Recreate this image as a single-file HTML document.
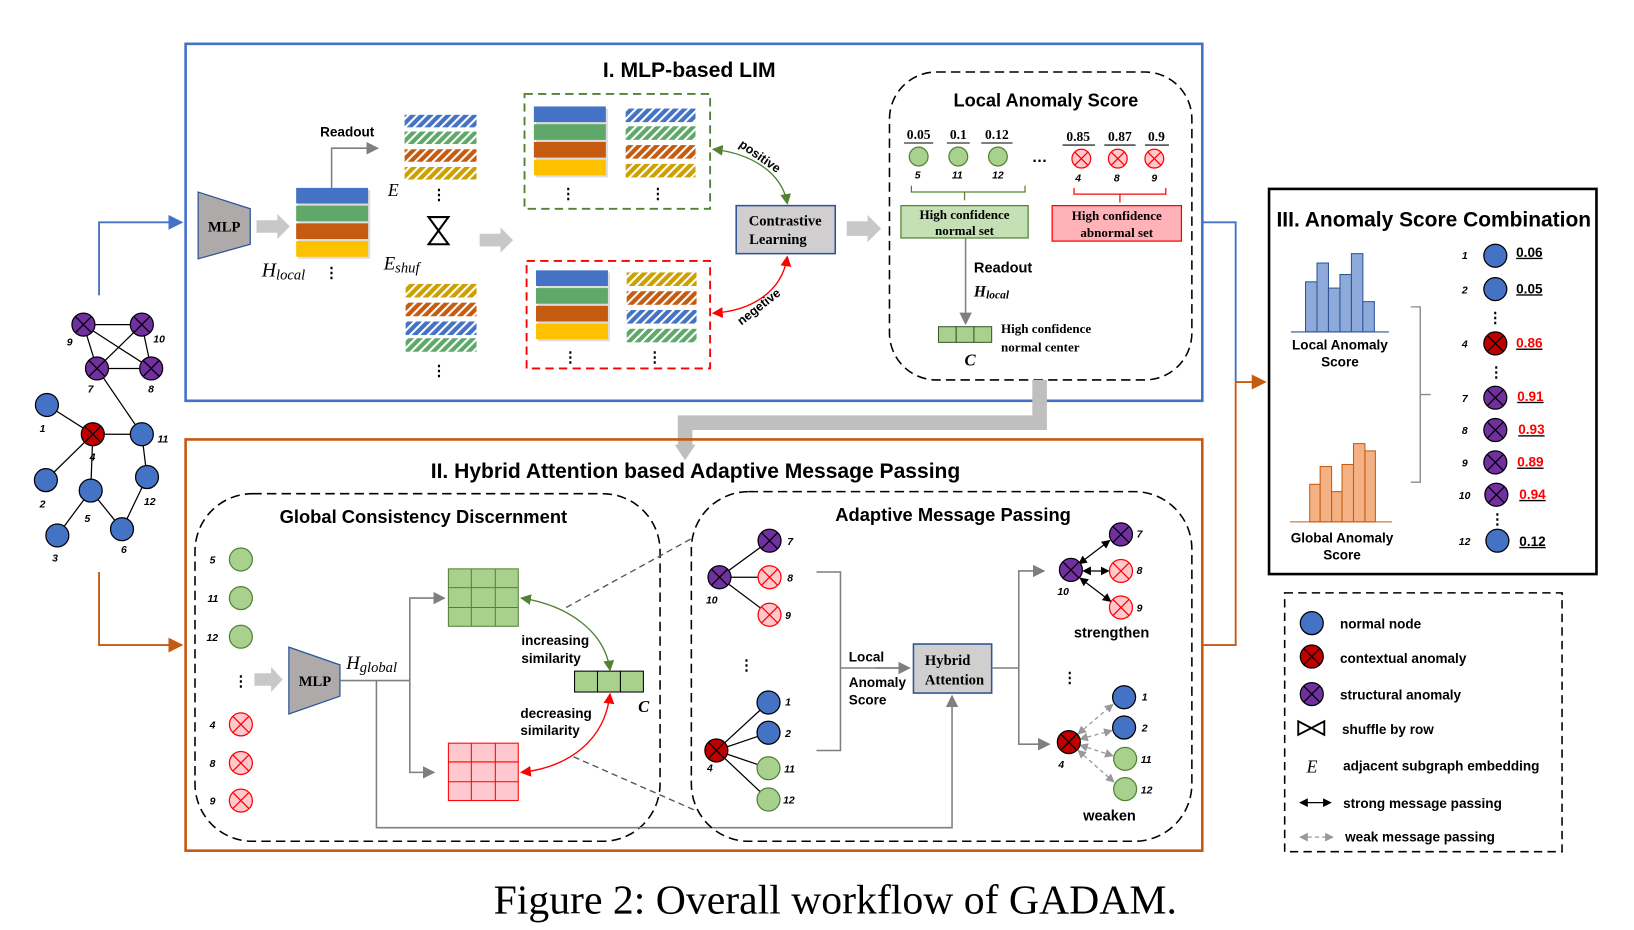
<!DOCTYPE html>
<html><head><meta charset="utf-8"><style>html,body{margin:0;padding:0;background:#fff}svg{display:block}</style></head><body>
<svg width="1634" height="930" viewBox="0 0 1567 891" preserveAspectRatio="none" xmlns="http://www.w3.org/2000/svg" font-family="Liberation Sans, Arial, sans-serif">
<defs>
<pattern id="pb" width="6" height="6" patternUnits="userSpaceOnUse" patternTransform="rotate(45)"><rect width="6" height="6" fill="#4472c4"/><rect width="2" height="6" fill="#fff"/></pattern>
<pattern id="pg" width="6" height="6" patternUnits="userSpaceOnUse" patternTransform="rotate(45)"><rect width="6" height="6" fill="#5fa86a"/><rect width="2" height="6" fill="#fff"/></pattern>
<pattern id="po" width="6" height="6" patternUnits="userSpaceOnUse" patternTransform="rotate(45)"><rect width="6" height="6" fill="#c55a11"/><rect width="2" height="6" fill="#fff"/></pattern>
<pattern id="py" width="6" height="6" patternUnits="userSpaceOnUse" patternTransform="rotate(45)"><rect width="6" height="6" fill="#cca000"/><rect width="2" height="6" fill="#fff"/></pattern>
<marker id="ag" markerWidth="8" markerHeight="8" refX="7" refY="4" orient="auto"><path d="M0,0 L8,4 L0,8z" fill="#7f7f7f"/></marker>
<marker id="ab" markerWidth="8" markerHeight="8" refX="7" refY="4" orient="auto"><path d="M0,0 L8,4 L0,8z" fill="#4472c4"/></marker>
<marker id="ao" markerWidth="8" markerHeight="8" refX="7" refY="4" orient="auto"><path d="M0,0 L8,4 L0,8z" fill="#c55a11"/></marker>
<marker id="agr" markerWidth="8" markerHeight="8" refX="7" refY="4" orient="auto-start-reverse"><path d="M0,0 L8,4 L0,8z" fill="#548235"/></marker>
<marker id="ar" markerWidth="8" markerHeight="8" refX="7" refY="4" orient="auto-start-reverse"><path d="M0,0 L8,4 L0,8z" fill="#ff0000"/></marker>
<marker id="ak" markerWidth="7" markerHeight="7" refX="6" refY="3.5" orient="auto-start-reverse"><path d="M0,0 L7,3.5 L0,7z" fill="#000"/></marker>
<marker id="ad" markerWidth="7" markerHeight="7" refX="6" refY="3.5" orient="auto-start-reverse"><path d="M0,0 L7,3.5 L0,7z" fill="#999"/></marker>
<g id="nb"><circle r="11" fill="#4472c4" stroke="#000" stroke-width="1.2"/></g>
<g id="nr"><circle r="11" fill="#c00000" stroke="#000" stroke-width="1.2"/><path d="M-7.8,-7.8L7.8,7.8M-7.8,7.8L7.8,-7.8" stroke="#000" stroke-width="1.2"/></g>
<g id="np"><circle r="11" fill="#7030a0" stroke="#000" stroke-width="1.2"/><path d="M-7.8,-7.8L7.8,7.8M-7.8,7.8L7.8,-7.8" stroke="#000" stroke-width="1.2"/></g>
<g id="ng"><circle r="11" fill="#a9d18e" stroke="#548235" stroke-width="1.2"/></g>
<g id="nk"><circle r="11" fill="#ffc7ce" stroke="#ff0000" stroke-width="1.2"/><path d="M-7.8,-7.8L7.8,7.8M-7.8,7.8L7.8,-7.8" stroke="#ff0000" stroke-width="1.2"/></g>
<g id="ngs"><circle r="9" fill="#a9d18e" stroke="#548235" stroke-width="1.2"/></g>
<g id="nks"><circle r="9" fill="#ffc7ce" stroke="#ff0000" stroke-width="1.2"/><path d="M-6.3,-6.3L6.3,6.3M-6.3,6.3L6.3,-6.3" stroke="#ff0000" stroke-width="1.2"/></g>
<g id="solid"><rect x="2" y="2" width="69" height="66" fill="#bbb" opacity="0.5"/><rect width="69" height="15" fill="#4472c4"/><rect y="17" width="69" height="15" fill="#5fa86a"/><rect y="34" width="69" height="15" fill="#c55a11"/><rect y="51" width="69" height="15" fill="#ffc000"/></g>
</defs>

<rect x="178" y="42" width="975" height="342" fill="none" stroke="#4472c4" stroke-width="2.5"/>
<text x="661" y="74" font-size="20.3" font-weight="bold" text-anchor="middle">I. MLP-based LIM</text>
<polygon points="190,184 240,200 240,234 190,248" fill="#aeaaaa" stroke="#2f5597" stroke-width="1.2"/>
<text x="215" y="222" font-family="Liberation Serif, serif" font-weight="bold" font-size="14" text-anchor="middle">MLP</text>
<path d="M246,211 H266 V205 L278,217 L266,229 V223 H246z" fill="#c8c8c8"/>
<use href="#solid" x="284" y="180"/>
<path d="M318,180 V142 H362" stroke="#7f7f7f" stroke-width="1.5" fill="none" marker-end="url(#ag)"/>
<text x="307" y="131" font-size="13" font-weight="bold">Readout</text>
<text x="251" y="265" font-family="Liberation Serif, serif" font-style="italic" font-size="19">H<tspan font-size="14" dy="3">local</tspan></text>
<text x="318" y="266" font-size="14" font-weight="bold" text-anchor="middle">⋮</text>
<g>
<rect x="388" y="110" width="69" height="12" fill="url(#pb)"/><rect x="388" y="126" width="69" height="12" fill="url(#pg)"/><rect x="388" y="143" width="69" height="12" fill="url(#po)"/><rect x="388" y="160" width="69" height="12" fill="url(#py)"/>
</g>
<text x="372" y="188" font-family="Liberation Serif, serif" font-style="italic" font-size="17">E</text>
<text x="421" y="191" font-size="14" font-weight="bold" text-anchor="middle">⋮</text>
<path d="M411,208 H430 L411,234 H430 Z" fill="none" stroke="#000" stroke-width="2"/>
<text x="368" y="258" font-family="Liberation Serif, serif" font-style="italic" font-size="18">E<tspan font-size="14" dy="3">shuf</tspan></text>
<g>
<rect x="389" y="272" width="68" height="13" fill="url(#py)"/><rect x="389" y="290" width="68" height="13" fill="url(#po)"/><rect x="389" y="308" width="68" height="13" fill="url(#pb)"/><rect x="389" y="324" width="68" height="13" fill="url(#pg)"/>
</g>
<text x="421" y="360" font-size="14" font-weight="bold" text-anchor="middle">⋮</text>
<path d="M460,224 H480 V218 L492,230 L480,242 V236 H460z" fill="#c8c8c8"/>
<rect x="503" y="90" width="178" height="110" fill="none" stroke="#548235" stroke-width="1.8" stroke-dasharray="8,5"/>
<use href="#solid" x="512" y="102"/>
<g><rect x="600" y="104" width="67" height="13" fill="url(#pb)"/><rect x="600" y="121" width="67" height="13" fill="url(#pg)"/><rect x="600" y="139" width="67" height="13" fill="url(#po)"/><rect x="600" y="157" width="67" height="13" fill="url(#py)"/></g>
<text x="545" y="190" font-size="14" font-weight="bold" text-anchor="middle">⋮</text>
<text x="631" y="190" font-size="14" font-weight="bold" text-anchor="middle">⋮</text>
<rect x="505" y="250" width="176" height="103" fill="none" stroke="#ff0000" stroke-width="1.8" stroke-dasharray="8,5"/>
<use href="#solid" x="514" y="259"/>
<g><rect x="601" y="261" width="67" height="13" fill="url(#py)"/><rect x="601" y="279" width="67" height="13" fill="url(#po)"/><rect x="601" y="297" width="67" height="13" fill="url(#pb)"/><rect x="601" y="315" width="67" height="13" fill="url(#pg)"/></g>
<text x="547" y="347" font-size="14" font-weight="bold" text-anchor="middle">⋮</text>
<text x="628" y="347" font-size="14" font-weight="bold" text-anchor="middle">⋮</text>
<rect x="706" y="197" width="95" height="46" fill="#d0cece" stroke="#2f5597" stroke-width="1.5"/>
<text x="753" y="216" font-family="Liberation Serif, serif" font-weight="bold" font-size="14" text-anchor="middle">Contrastive</text>
<text x="746" y="234" font-family="Liberation Serif, serif" font-weight="bold" font-size="14" text-anchor="middle">Learning</text>
<path d="M755,195 C750,165 720,147 684,143" fill="none" stroke="#548235" stroke-width="1.3" marker-start="url(#agr)" marker-end="url(#agr)"/>
<text x="0" y="0" font-size="12" font-weight="bold" transform="translate(708,140) rotate(35)">positive</text>
<path d="M755,246 C750,280 720,298 684,300" fill="none" stroke="#ff0000" stroke-width="1.3" marker-start="url(#ar)" marker-end="url(#ar)"/>
<text x="0" y="0" font-size="12" font-weight="bold" transform="translate(711,312) rotate(-38)">negetive</text>
<path d="M812,212 H832 V206 L845,219 L832,232 V226 H812z" fill="#c8c8c8"/>

<rect x="853" y="69" width="290" height="295" rx="45" fill="none" stroke="#000" stroke-width="1.5" stroke-dasharray="9,5"/>
<text x="1003" y="102" font-size="17.5" font-weight="bold" text-anchor="middle">Local Anomaly Score</text>
<g font-family="Liberation Serif, serif" font-weight="bold" font-size="13" text-anchor="middle">
<text x="881" y="133">0.05</text><text x="919" y="133">0.1</text><text x="956" y="133">0.12</text>
<text x="1034" y="135">0.85</text><text x="1074" y="135">0.87</text><text x="1109" y="135">0.9</text>
</g>
<g stroke="#000" stroke-width="1"><path d="M867,137H895M908,137H930M941,137H971M1019,139H1050M1059,139H1089M1098,139H1121"/></g>
<use href="#ngs" x="881" y="150"/><use href="#ngs" x="919" y="150"/><use href="#ngs" x="957" y="150"/>
<use href="#nks" x="1037" y="152"/><use href="#nks" x="1072" y="152"/><use href="#nks" x="1107" y="152"/>
<text x="997" y="155" font-size="15" font-weight="bold" text-anchor="middle">…</text>
<g font-size="10" font-style="italic" font-weight="bold" text-anchor="middle"><text x="880" y="171">5</text><text x="918" y="171">11</text><text x="957" y="171">12</text><text x="1034" y="174">4</text><text x="1071" y="174">8</text><text x="1107" y="174">9</text></g>
<path d="M874,178 V184 H983 V178 M925,184 V192" fill="none" stroke="#548235" stroke-width="1.2"/>
<path d="M1030,180 V186 H1118 V180 M1074,186 V194" fill="none" stroke="#ff0000" stroke-width="1.2"/>
<rect x="864" y="197" width="122" height="31" fill="#c5e0b4" stroke="#548235" stroke-width="1.2"/>
<text x="925" y="210" font-family="Liberation Serif, serif" font-weight="bold" font-size="12.5" text-anchor="middle">High confidence</text>
<text x="925" y="225" font-family="Liberation Serif, serif" font-weight="bold" font-size="12.5" text-anchor="middle">normal set</text>
<rect x="1009" y="197" width="124" height="34" fill="#ffb3b8" stroke="#ff0000" stroke-width="1.2"/>
<text x="1071" y="211" font-family="Liberation Serif, serif" font-weight="bold" font-size="12.5" text-anchor="middle">High confidence</text>
<text x="1071" y="227" font-family="Liberation Serif, serif" font-weight="bold" font-size="12.5" text-anchor="middle">abnormal set</text>
<path d="M926,228 V310" stroke="#7f7f7f" stroke-width="1.5" marker-end="url(#ag)"/>
<text x="934" y="261" font-size="14" font-weight="bold">Readout</text>
<text x="934" y="284" font-family="Liberation Serif, serif" font-weight="bold" font-style="italic" font-size="15">H<tspan font-size="11" dy="2">local</tspan></text>
<g fill="#a9d18e" stroke="#3a5a28" stroke-width="1"><rect x="900" y="313" width="17" height="15"/><rect x="917" y="313" width="17" height="15"/><rect x="934" y="313" width="17" height="15"/></g>
<text x="925" y="350" font-family="Liberation Serif, serif" font-style="italic" font-weight="bold" font-size="16">C</text>
<text x="960" y="319" font-family="Liberation Serif, serif" font-weight="bold" font-size="12.5">High confidence</text>
<text x="960" y="337" font-family="Liberation Serif, serif" font-weight="bold" font-size="12.5">normal center</text>

<path d="M997,364 V405 H657 V428" fill="none" stroke="#bfbfbf" stroke-width="14"/>
<path d="M647,426 H667 L657,441z" fill="#bfbfbf"/>

<path d="M1153,213 H1185 V366" fill="none" stroke="#4472c4" stroke-width="1.8"/>
<path d="M1153,618 H1185 V366 H1213" fill="none" stroke="#c55a11" stroke-width="1.8" marker-end="url(#ao)"/>
<path d="M95,283 V213 H174" fill="none" stroke="#4472c4" stroke-width="1.8" marker-end="url(#ab)"/>
<path d="M95,548 V618 H174" fill="none" stroke="#c55a11" stroke-width="1.8" marker-end="url(#ao)"/>

<g stroke="#000" stroke-width="1.2">
<path d="M80,311L136,311M80,311L93,353M80,311L145,353M136,311L93,353M136,311L145,353M93,353L145,353M93,353L136,416M45,388L89,416M89,416L136,416M89,416L44,460M89,416L87,470M136,416L141,457M141,457L117,507M87,470L55,513M87,470L117,507"/>
</g>
<use href="#np" x="80" y="311"/><use href="#np" x="136" y="311"/><use href="#np" x="93" y="353"/><use href="#np" x="145" y="353"/>
<use href="#nb" x="45" y="388"/><use href="#nr" x="89" y="416"/><use href="#nb" x="136" y="416"/><use href="#nb" x="44" y="460"/><use href="#nb" x="87" y="470"/><use href="#nb" x="141" y="457"/><use href="#nb" x="117" y="507"/><use href="#nb" x="55" y="513"/>
<g font-size="10" font-style="italic" font-weight="bold"><text x="64" y="331">9</text><text x="147" y="328">10</text><text x="84" y="376">7</text><text x="142" y="376">8</text><text x="38" y="414">1</text><text x="86" y="441">4</text><text x="151" y="424">11</text><text x="38" y="486">2</text><text x="81" y="500">5</text><text x="138" y="484">12</text><text x="116" y="530">6</text><text x="50" y="538">3</text></g>

<rect x="178" y="421" width="975" height="394" fill="none" stroke="#c55a11" stroke-width="2.5"/>
<text x="667" y="458" font-size="20.2" font-weight="bold" text-anchor="middle">II. Hybrid Attention based Adaptive Message Passing</text>
<rect x="187" y="473" width="446" height="333" rx="55" fill="none" stroke="#000" stroke-width="1.5" stroke-dasharray="9,5"/>
<text x="406" y="501" font-size="17.6" font-weight="bold" text-anchor="middle">Global Consistency Discernment</text>
<use href="#ng" x="231" y="536"/><use href="#ng" x="231" y="573"/><use href="#ng" x="231" y="610"/>
<use href="#nk" x="231" y="694"/><use href="#nk" x="231" y="731"/><use href="#nk" x="231" y="767"/>
<g font-size="10" font-style="italic" font-weight="bold"><text x="201" y="540">5</text><text x="199" y="577">11</text><text x="198" y="614">12</text><text x="201" y="698">4</text><text x="201" y="735">8</text><text x="201" y="771">9</text></g>
<text x="231" y="657" font-size="14" font-weight="bold" text-anchor="middle">⋮</text>
<path d="M244,645 H260 V639 L271,651 L260,663 V657 H244z" fill="#c8c8c8"/>
<polygon points="277,620 326,637 326,667 277,684" fill="#aeaaaa" stroke="#2f5597" stroke-width="1.2"/>
<text x="302" y="657" font-family="Liberation Serif, serif" font-weight="bold" font-size="14" text-anchor="middle">MLP</text>
<text x="332" y="641" font-family="Liberation Serif, serif" font-style="italic" font-size="18">H<tspan font-size="14" dy="3">global</tspan></text>
<g fill="none" stroke="#7f7f7f" stroke-width="1.5">
<path d="M326,652 H393"/>
<path d="M393,652 V573 H426" marker-end="url(#ag)"/>
<path d="M393,652 V740 H416" marker-end="url(#ag)"/>
<path d="M361,652 V793 H913 V667" marker-end="url(#ag)"/>
</g>
<g stroke="#548235" stroke-width="1"><rect x="430" y="545" width="67" height="55" fill="#a9d18e"/><path d="M452,545V600M475,545V600M430,563H497M430,582H497"/></g>
<g stroke="#ff0000" stroke-width="1"><rect x="430" y="712" width="67" height="55" fill="#ffc7ce"/><path d="M452,712V767M475,712V767M430,730H497M430,749H497"/></g>
<g fill="#a9d18e" stroke="#000" stroke-width="1"><rect x="551" y="643" width="22" height="20"/><rect x="573" y="643" width="22" height="20"/><rect x="595" y="643" width="22" height="20"/></g>
<text x="612" y="682" font-family="Liberation Serif, serif" font-style="italic" font-weight="bold" font-size="16">C</text>
<path d="M500,573 C545,580 580,605 585,642" fill="none" stroke="#548235" stroke-width="1.3" marker-start="url(#agr)" marker-end="url(#agr)"/>
<path d="M585,665 C580,710 545,735 500,740" fill="none" stroke="#ff0000" stroke-width="1.3" marker-start="url(#ar)" marker-end="url(#ar)"/>
<g font-size="13" font-weight="bold"><text x="500" y="618">increasing</text><text x="500" y="635">similarity</text><text x="499" y="688">decreasing</text><text x="499" y="704">similarity</text></g>
<path d="M543,582 L665,515 M550,725 L668,777" stroke="#555" stroke-width="1.3" stroke-dasharray="6,4" fill="none"/>

<rect x="663" y="471" width="480" height="335" rx="55" fill="none" stroke="#000" stroke-width="1.5" stroke-dasharray="9,5"/>
<text x="914" y="499" font-size="17.6" font-weight="bold" text-anchor="middle">Adaptive Message Passing</text>
<g stroke="#000" stroke-width="1.2"><path d="M690,553L738,518M690,553L738,553M690,553L738,589M687,719L737,673M687,719L737,702M687,719L737,736M687,719L737,766"/></g>
<use href="#np" x="690" y="553"/><use href="#np" x="738" y="518"/><use href="#nk" x="738" y="553"/><use href="#nk" x="738" y="589"/>
<use href="#nr" x="687" y="719"/><use href="#nb" x="737" y="673"/><use href="#nb" x="737" y="702"/><use href="#ng" x="737" y="736"/><use href="#ng" x="737" y="766"/>
<g font-size="10" font-style="italic" font-weight="bold"><text x="755" y="522">7</text><text x="755" y="557">8</text><text x="753" y="593">9</text><text x="677" y="578">10</text><text x="678" y="739">4</text><text x="753" y="676">1</text><text x="753" y="706">2</text><text x="752" y="740">11</text><text x="751" y="770">12</text></g>
<text x="716" y="642" font-size="14" font-weight="bold" text-anchor="middle">⋮</text>
<path d="M783,548 H806 V719 H783 M806,640 H872" fill="none" stroke="#7f7f7f" stroke-width="1.5"/>
<path d="M840,640 H872" stroke="#7f7f7f" stroke-width="1.5" marker-end="url(#ag)"/>
<g font-size="13" font-weight="bold"><text x="814" y="634">Local</text><text x="814" y="658">Anomaly</text><text x="814" y="675">Score</text></g>
<rect x="876" y="617" width="75" height="47" fill="#d0cece" stroke="#2f5597" stroke-width="1.5"/>
<text x="887" y="637" font-family="Liberation Serif, serif" font-weight="bold" font-size="14">Hybrid</text>
<text x="887" y="656" font-family="Liberation Serif, serif" font-weight="bold" font-size="14">Attention</text>
<g fill="none" stroke="#7f7f7f" stroke-width="1.5"><path d="M951,640 H977"/><path d="M977,640 V547 H1001" marker-end="url(#ag)"/><path d="M977,640 V713 H1006" marker-end="url(#ag)"/></g>
<g stroke="#000" stroke-width="1.2" fill="none"><path d="M1035,540L1064,518" marker-start="url(#ak)" marker-end="url(#ak)"/><path d="M1039,547L1063,547" marker-start="url(#ak)" marker-end="url(#ak)"/><path d="M1036,554L1065,576" marker-start="url(#ak)" marker-end="url(#ak)"/></g>
<use href="#np" x="1027" y="546"/><use href="#np" x="1075" y="512"/><use href="#nk" x="1075" y="547"/><use href="#nk" x="1075" y="582"/>
<g stroke="#999" stroke-width="1.2" fill="none" stroke-dasharray="4,3"><path d="M1034,703L1067,675" marker-start="url(#ad)" marker-end="url(#ad)"/><path d="M1036,708L1066,700" marker-start="url(#ad)" marker-end="url(#ad)"/><path d="M1036,714L1067,724" marker-start="url(#ad)" marker-end="url(#ad)"/><path d="M1034,719L1068,749" marker-start="url(#ad)" marker-end="url(#ad)"/></g>
<use href="#nr" x="1025" y="711"/><use href="#nb" x="1078" y="668"/><use href="#nb" x="1078" y="697"/><use href="#ng" x="1079" y="727"/><use href="#ng" x="1079" y="756"/>
<g font-size="10" font-style="italic" font-weight="bold"><text x="1090" y="515">7</text><text x="1090" y="550">8</text><text x="1090" y="586">9</text><text x="1014" y="570">10</text><text x="1015" y="736">4</text><text x="1095" y="671">1</text><text x="1095" y="701">2</text><text x="1094" y="731">11</text><text x="1094" y="760">12</text></g>
<text x="1066" y="611" font-size="14" font-weight="bold" text-anchor="middle">strengthen</text>
<text x="1026" y="654" font-size="14" font-weight="bold" text-anchor="middle">⋮</text>
<text x="1064" y="786" font-size="14" font-weight="bold" text-anchor="middle">weaken</text>

<rect x="1217" y="181" width="314" height="369" fill="none" stroke="#000" stroke-width="2.5"/>
<text x="1375" y="217" font-size="20.1" font-weight="bold" text-anchor="middle">III. Anomaly Score Combination</text>
<g fill="#8eaadb" stroke="#2f5597" stroke-width="1"><rect x="1252" y="270" width="11" height="48"/><rect x="1263" y="252" width="11" height="66"/><rect x="1274" y="276" width="11" height="42"/><rect x="1285" y="263" width="11" height="55"/><rect x="1296" y="243" width="11" height="75"/><rect x="1307" y="289" width="11" height="29"/></g>
<path d="M1238,318 H1332" stroke="#2f5597" stroke-width="1"/>
<text x="1285" y="335" font-size="13" font-weight="bold" text-anchor="middle">Local Anomaly</text>
<text x="1285" y="351" font-size="13" font-weight="bold" text-anchor="middle">Score</text>
<g fill="#f4b183" stroke="#c55a11" stroke-width="1"><rect x="1256" y="464" width="10" height="36"/><rect x="1266" y="447" width="11" height="53"/><rect x="1277" y="471" width="10" height="29"/><rect x="1287" y="445" width="11" height="55"/><rect x="1298" y="425" width="11" height="75"/><rect x="1309" y="432" width="10" height="68"/></g>
<path d="M1237,500 H1335" stroke="#c55a11" stroke-width="1"/>
<text x="1287" y="520" font-size="13" font-weight="bold" text-anchor="middle">Global Anomaly</text>
<text x="1287" y="536" font-size="13" font-weight="bold" text-anchor="middle">Score</text>
<path d="M1353,294 H1362 V462 H1353 M1362,378 H1372" fill="none" stroke="#888" stroke-width="1.3"/>
<use href="#nb" x="1434" y="245"/><use href="#nb" x="1434" y="277"/><use href="#nr" x="1434" y="329"/><use href="#np" x="1434" y="381"/><use href="#np" x="1434" y="412"/><use href="#np" x="1434" y="443"/><use href="#np" x="1435" y="474"/><use href="#nb" x="1436" y="518"/>
<g font-size="10" font-style="italic" font-weight="bold"><text x="1402" y="248">1</text><text x="1402" y="281">2</text><text x="1402" y="333">4</text><text x="1402" y="385">7</text><text x="1402" y="416">8</text><text x="1402" y="447">9</text><text x="1399" y="478">10</text><text x="1399" y="522">12</text></g>
<g font-size="13" font-weight="bold" text-decoration="underline"><text x="1454" y="246">0.06</text><text x="1454" y="281">0.05</text><text x="1454" y="333" fill="#ff0000">0.86</text><text x="1455" y="384" fill="#ff0000">0.91</text><text x="1456" y="416" fill="#ff0000">0.93</text><text x="1455" y="447" fill="#ff0000">0.89</text><text x="1457" y="478" fill="#ff0000">0.94</text><text x="1457" y="523">0.12</text></g>
<g font-size="14" font-weight="bold" text-anchor="middle"><text x="1434" y="309">⋮</text><text x="1435" y="361">⋮</text><text x="1436" y="502">⋮</text></g>

<rect x="1232" y="568" width="266" height="248" fill="none" stroke="#000" stroke-width="1.5" stroke-dasharray="8,5"/>
<use href="#nb" x="1258" y="597"/><use href="#nr" x="1258" y="629"/><use href="#np" x="1258" y="665"/>
<path d="M1245,691 L1270,704 V691 L1245,704 Z" fill="none" stroke="#000" stroke-width="1.8"/>
<text x="1253" y="740" font-family="Liberation Serif, serif" font-style="italic" font-size="17">E</text>
<path d="M1247,769 H1276" stroke="#000" stroke-width="1.2" marker-start="url(#ak)" marker-end="url(#ak)"/>
<path d="M1247,802 H1278" stroke="#999" stroke-width="1.2" stroke-dasharray="4,3" marker-start="url(#ad)" marker-end="url(#ad)"/>
<g font-size="13" font-weight="bold"><text x="1285" y="602">normal node</text><text x="1285" y="635">contextual anomaly</text><text x="1285" y="670">structural anomaly</text><text x="1287" y="703">shuffle by row</text><text x="1288" y="738">adjacent subgraph embedding</text><text x="1288" y="774">strong message passing</text><text x="1290" y="806">weak message passing</text></g>

<text x="801" y="875" font-family="Liberation Serif, serif" font-size="40" text-anchor="middle">Figure 2: Overall workflow of GADAM.</text>
</svg>
</body></html>
